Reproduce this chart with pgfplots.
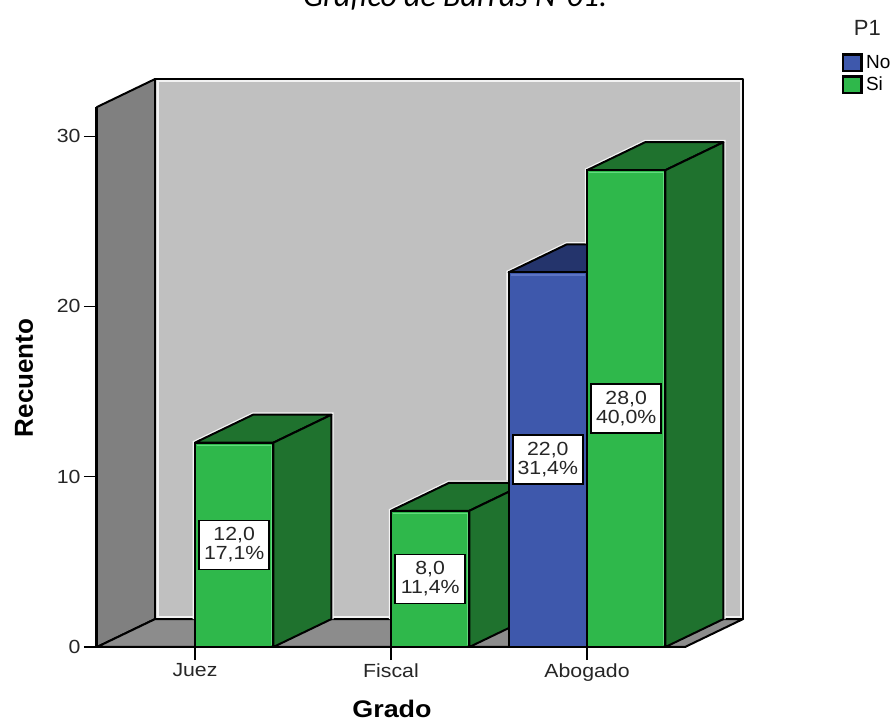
\documentclass[border=0pt]{standalone}
\usepackage{pgfplots}
\usepackage{fontspec}
\pgfplotsset{compat=1.18}
\setmainfont{Liberation Sans}[FakeStretch=1.12]
\newfontfamily\plainfont{Liberation Sans}
\newfontfamily\titlefont{Carlito}
\definecolor{wallgray}{HTML}{C0C0C0}
\definecolor{sidegray}{HTML}{808080}
\definecolor{floorgray}{HTML}{8C8C8C}
\definecolor{sifront}{HTML}{2FB84B}
\definecolor{sidark}{HTML}{1F722E}
\definecolor{silight}{HTML}{62DB7E}
\definecolor{nofront}{HTML}{3E58AC}
\definecolor{nodark}{HTML}{24346C}
\definecolor{nolight}{HTML}{5C74C4}
\newcommand{\fs}[1]{\fontsize{#1}{#1}\selectfont}
\begin{document}
\begin{tikzpicture}[x=1pt,y=1pt]
\useasboundingbox (-97,-75) rectangle (799,647);
\begin{axis}[
    scale only axis,
    width=588pt, height=540pt,
    xmin=0, xmax=3,
    ymin=0, ymax=31.71,
    clip=false,
    axis on top,
    axis x line*=bottom,
    axis y line*=left,
    axis line style={-},
    xtick={0.5,1.5,2.5},
    xticklabels={Juez,Fiscal,Abogado},
    ytick={0,10,20,30},
    tick align=outside,
    major tick length=13pt,
    tick style={black, line width=1.2pt},
    /pgf/number format/assume math mode=true,
    tick label style={font=\fs{19}, text=black!85},
    xlabel={Grado},
    ylabel={Recuento},
    title={\titlefont\itshape Gráfico de Barras N°01.},
    every axis x label/.style={at={(axis cs:1.505,-3.66)}, anchor=center, font=\fs{24}\bfseries},
    every axis y label/.style={at={(axis cs:-0.372,15.8)}, rotate=90, anchor=center, font=\plainfont\fs{26}\bfseries},
    every axis title/.style={at={(axis cs:1.827,37.64)}, anchor=base, font=\fs{32}},
    legend style={at={(axis cs:3.80,34.88)}, anchor=north west, draw=none, fill=none,
        font=\plainfont\fs{19}, row sep=3pt, inner sep=0pt, outer sep=0pt},
    legend cell align=left,
    wallp/.style={forget plot, draw=black, line width=2pt, line join=round},
    halo/.style={forget plot, no markers, draw=white!92!gray, line width=4.5pt},
    face/.style={forget plot, draw=black, line width=2pt, line join=round},
    front/.style={forget plot, ybar, bar width=78pt, bar shift=0pt, draw=black, line width=2pt},
    shine/.style={forget plot, no markers, line width=1.2pt},
]
% walls and floor
\addplot[wallp, fill=white!90!gray] coordinates {(0.296,1.64) (3.296,1.64) (3.296,33.35) (0.296,33.35)} -- cycle;
\addplot[forget plot, draw=none, fill=wallgray] coordinates {(0.314,1.84) (3.28,1.84) (3.28,33.15) (0.314,33.15)} -- cycle;
\addplot[wallp, fill=sidegray] coordinates {(0,0) (0.296,1.64) (0.296,33.35) (0,31.71)} -- cycle;
\addplot[wallp, fill=floorgray] coordinates {(0,0) (0.296,1.64) (3.296,1.64) (3,0)} -- cycle;
\addplot[forget plot, no markers, black, line width=3pt] coordinates {(0,0) (0,31.71)};
\addplot[forget plot, no markers, black, line width=1.2pt] coordinates {(0,0) (3,0)};

% Juez, Si = 12
\addplot[halo] coordinates {(0.5,1.64) (0.5,12) (0.796,13.64) (1.196,13.64) (1.196,1.64)};
\addplot[face, fill=sidark] coordinates {(0.5,12) (0.9,12) (1.196,13.64) (0.796,13.64)} -- cycle;
\addplot[face, fill=sidark] coordinates {(0.9,0) (1.196,1.64) (1.196,13.64) (0.9,12)} -- cycle;
\addplot[front, fill=sifront] coordinates {(0.7,12)};
\addplot[shine, silight] coordinates {(0.51,11.85) (0.89,11.85) (0.89,0.1)};

% Fiscal, Si = 8
\addplot[halo] coordinates {(1.5,1.64) (1.5,8) (1.796,9.64) (2.1,9.64)};
\addplot[face, fill=sidark] coordinates {(1.5,8) (1.9,8) (2.196,9.64) (1.796,9.64)} -- cycle;
\addplot[face, fill=sidark] coordinates {(1.9,0) (2.196,1.64) (2.196,9.64) (1.9,8)} -- cycle;
\addplot[front, fill=sifront] coordinates {(1.7,8)};
\addplot[shine, silight] coordinates {(1.51,7.85) (1.89,7.85) (1.89,0.1)};

% Abogado, No = 22
\addplot[halo] coordinates {(2.1,9.8) (2.1,22) (2.396,23.64) (2.5,23.64)};
\addplot[face, fill=nodark] coordinates {(2.1,22) (2.5,22) (2.796,23.64) (2.396,23.64)} -- cycle;
\addplot[front, fill=nofront] coordinates {(2.3,22)};
\addplot[shine, nolight] coordinates {(2.11,21.85) (2.49,21.85)};

% Abogado, Si = 28
\addplot[halo] coordinates {(2.5,23.7) (2.5,28) (2.796,29.64) (3.196,29.64) (3.196,1.64)};
\addplot[face, fill=sidark] coordinates {(2.5,28) (2.9,28) (3.196,29.64) (2.796,29.64)} -- cycle;
\addplot[face, fill=sidark] coordinates {(2.9,0) (3.196,1.64) (3.196,29.64) (2.9,28)} -- cycle;
\addplot[front, fill=sifront] coordinates {(2.7,28)};
\addplot[shine, silight] coordinates {(2.51,27.85) (2.89,27.85) (2.89,0.1)};

% value boxes
\tikzset{valbox/.style={draw=black, line width=1.6pt, fill=white, text=black!85, align=center,
    minimum width=70pt, minimum height=49pt, inner sep=0pt, font=\fs{19}}}
\node[valbox] at (axis cs:0.7,6) {12,0\\17,1\%};
\node[valbox] at (axis cs:1.7,4) {8,0\\11,4\%};
\node[valbox] at (axis cs:2.3,11) {22,0\\31,4\%};
\node[valbox] at (axis cs:2.7,14) {28,0\\40,0\%};

% legend
\addlegendimage{legend image code/.code={\draw[fill=nofront, draw=black, line width=2.5pt] (0pt,-8.25pt) rectangle (18.5pt,8.25pt); \path[draw=none, fill=none] (0pt,0pt) -- (21pt,0pt);}}
\addlegendentry{No}
\addlegendimage{legend image code/.code={\draw[fill=sifront, draw=black, line width=2.5pt] (0pt,-8.25pt) rectangle (18.5pt,8.25pt); \path[draw=none, fill=none] (0pt,0pt) -- (21pt,0pt);}}
\addlegendentry{Si}
\node[anchor=base, font=\plainfont\fs{22}, text=black!85] at (axis cs:3.93,35.9) {P1};
\end{axis}
\end{tikzpicture}
\end{document}
